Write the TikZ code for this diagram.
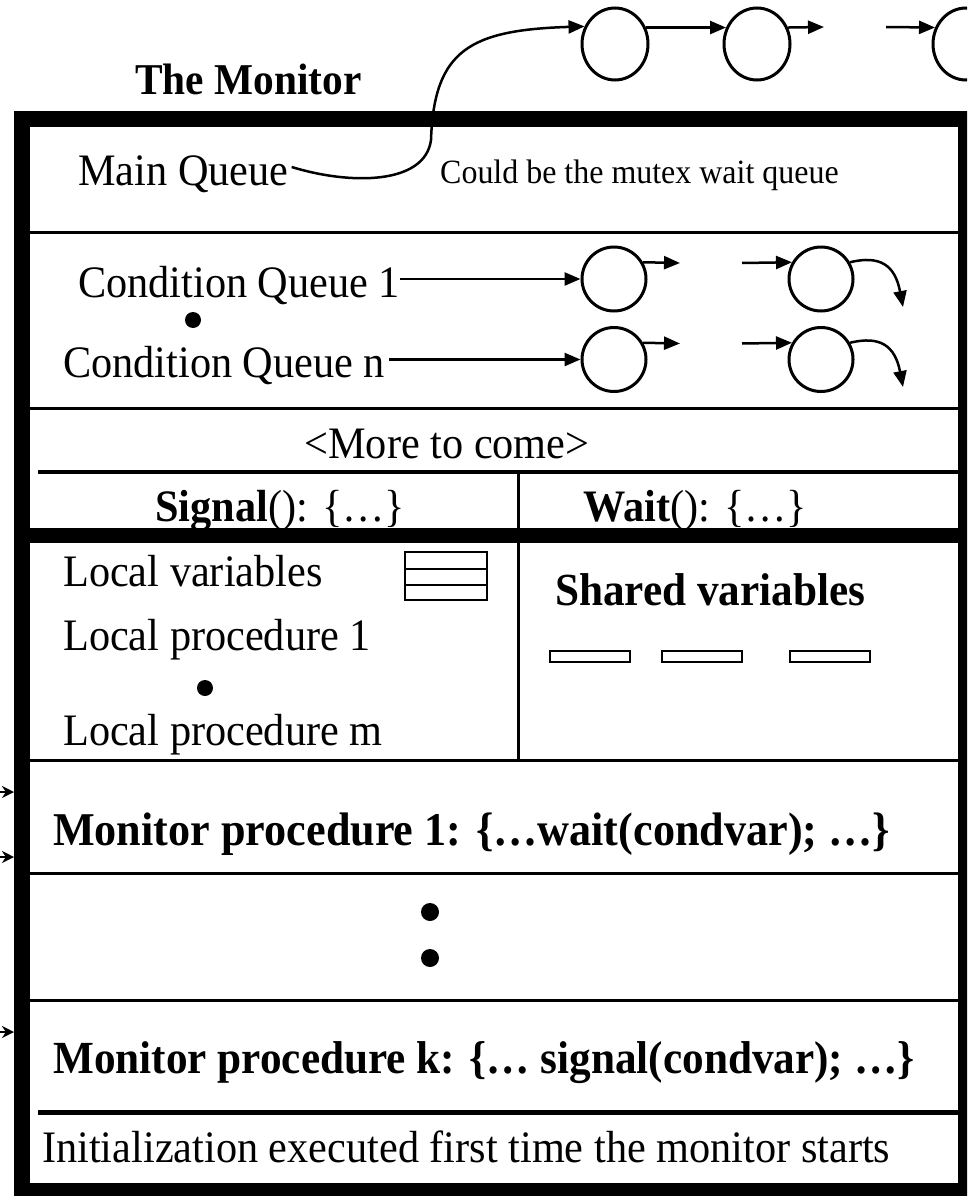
\documentclass[tikz,border=0pt]{standalone}
\usepackage{fontspec}
\setmainfont{Liberation Serif}[FakeStretch=0.94]
\usetikzlibrary{arrows.meta,shapes.geometric,calc}
\begin{document}
\begin{tikzpicture}[x=1pt,y=-1pt,
  txt/.style={inner sep=0pt,anchor=base west,font=\fontsize{45}{50}\selectfont},
  btxt/.style={inner sep=0pt,anchor=base west,font=\fontsize{46}{50}\selectfont\bfseries},
  smalltxt/.style={inner sep=0pt,anchor=base west,font=\fontsize{34}{38}\selectfont},
  qnode/.style={draw,line width=3pt,circle,minimum size=64pt,inner sep=0pt},
  topnode/.style={draw,line width=3pt,ellipse,minimum width=66pt,minimum height=72pt,inner sep=0pt},
  dotnode/.style={fill,circle,inner sep=0pt,minimum size=#1},
  arr/.style={line width=2.5pt,-{Triangle[length=16pt,width=13pt]}},
  sidearr/.style={line width=2.5pt,-{Stealth[length=12pt,width=12pt]}},
  sepline/.style={line width=3pt},
  boxline/.style={line width=2.5pt}
]
\useasboundingbox (0,0) rectangle (967,1196);
\clip (0,0) rectangle (967,1196);

% outer frame
\draw[line width=16pt] (22,119.5) rectangle (966,1191);

% separator lines
\draw[sepline] (30,232) -- (958,232);
\draw[sepline] (30,408) -- (958,408);
\draw[line width=3.5pt] (38,472) -- (958,472);
\draw[line width=15pt] (30,535.5) -- (958,535.5);
\draw[sepline] (518,472) -- (518,528);
\draw[sepline] (518,543) -- (518,760);
\draw[sepline] (30,760) -- (958,760);
\draw[sepline] (30,873) -- (958,873);
\draw[sepline] (30,1000) -- (958,1000);
\draw[line width=5pt] (38,1112) -- (958,1112);

% title
\node[btxt,font=\fontsize{44}{48}\selectfont\bfseries] (title) at (135,95) {The Monitor};

% main queue
\node[txt] (mq) at (78,185) {Main Queue};
\node[smalltxt] (note) at (440,183) {Could be the mutex wait queue};
\node[topnode] (t1) at (615,44) {};
\node[topnode] (t2) at (757,44) {};
\node[topnode] (t3) at (966,44) {};
\coordinate (t2e) at (824,27);
\coordinate (t3s) at (886,27);
\draw[arr] ($(mq.base east)+(3,-18)$) .. controls (350,185) and (425,185) .. (431,140)
   .. controls (434,50) and (470,30) .. (t1.150);
\draw[arr] (t1.28) -- (t2.152);
\draw[arr] (t2.28) -- (t2e);
\draw[arr] (t3s) -- (t3.152);

% condition queues
\node[txt] (cq1) at (78,297) {Condition Queue 1};
\node[dotnode=16pt] (d1) at (193,320) {};
\node[txt] (cqn) at (63,377) {Condition Queue n};
\node[qnode] (c1a) at (614,279) {};
\node[qnode] (c1b) at (821,279) {};
\node[qnode] (cna) at (614,359.5) {};
\node[qnode] (cnb) at (821,359.5) {};
\coordinate (c1x) at (680,263);
\coordinate (c1y) at (742,263);
\coordinate (cnx) at (680,343.5);
\coordinate (cny) at (742,343.5);
\coordinate (c1end) at (903,307);
\coordinate (cnend) at (903,387);
\draw[arr] (cq1.east |- c1a.west) -- (c1a.west);
\draw[arr] (cqn.east |- cna.west) ++(4,0) -- (cna.west);
\draw[arr] (c1a.30) -- (c1x);
\draw[arr] (c1y) -- (c1b.150);
\draw[arr] (c1b.30) .. controls (880,255) and (895,265) .. (c1end);
\draw[arr] (cna.30) -- (cnx);
\draw[arr] (cny) -- (cnb.150);
\draw[arr] (cnb.30) .. controls (880,335.5) and (895,345.5) .. (cnend);

% more to come / signal / wait
\node[txt,anchor=base] (more) at (447,458) {<More to come>};
\node[txt] (sig) at (155,521) {\textbf{Signal}(): \{…\}};
\node[txt] (wait) at (583,521) {\textbf{Wait}(): \{…\}};

% local section
\node[txt] (lv) at (63,586) {Local variables};
\node[draw,boxline,minimum width=82pt,minimum height=48pt,inner sep=0pt] (stack) at (446,576) {};
\draw[boxline] (stack.west |- 0,569) -- (stack.east |- 0,569);
\draw[boxline] (stack.west |- 0,585) -- (stack.east |- 0,585);
\node[txt] (lp1) at (63,650) {Local procedure 1};
\node[dotnode=16pt] (d2) at (205,688) {};
\node[txt] (lpm) at (63,745) {Local procedure m};

\node[btxt] (sv) at (555,605) {Shared variables};
\node[draw,boxline,minimum width=80pt,minimum height=11pt,inner sep=0pt] (v1) at (590,656.5) {};
\node[draw,boxline,minimum width=80pt,minimum height=11pt,inner sep=0pt] (v2) at (702,656.5) {};
\node[draw,boxline,minimum width=80pt,minimum height=11pt,inner sep=0pt] (v3) at (830,656.5) {};

% monitor procedures
\node[btxt,font=\fontsize{47}{50}\selectfont\bfseries] (mp1) at (53,845) {Monitor procedure 1: \{…wait(condvar); …\}};
\node[dotnode=18pt] (d3) at (430,912) {};
\node[dotnode=18pt] (d4) at (430,958) {};
\node[btxt] (mpk) at (53,1073) {Monitor procedure k: \{… signal(condvar); …\}};
\node[txt] (init) at (42,1162) {Initialization executed first time the monitor starts};

% entry arrows on the left
\coordinate (a1s) at (-6,792);  \coordinate (a1e) at (14,792);
\coordinate (a2s) at (-6,857);  \coordinate (a2e) at (14,857);
\coordinate (a3s) at (-6,1032); \coordinate (a3e) at (14,1032);
\draw[sidearr] (a1s) -- (a1e);
\draw[sidearr] (a2s) -- (a2e);
\draw[sidearr] (a3s) -- (a3e);
\end{tikzpicture}
\end{document}
